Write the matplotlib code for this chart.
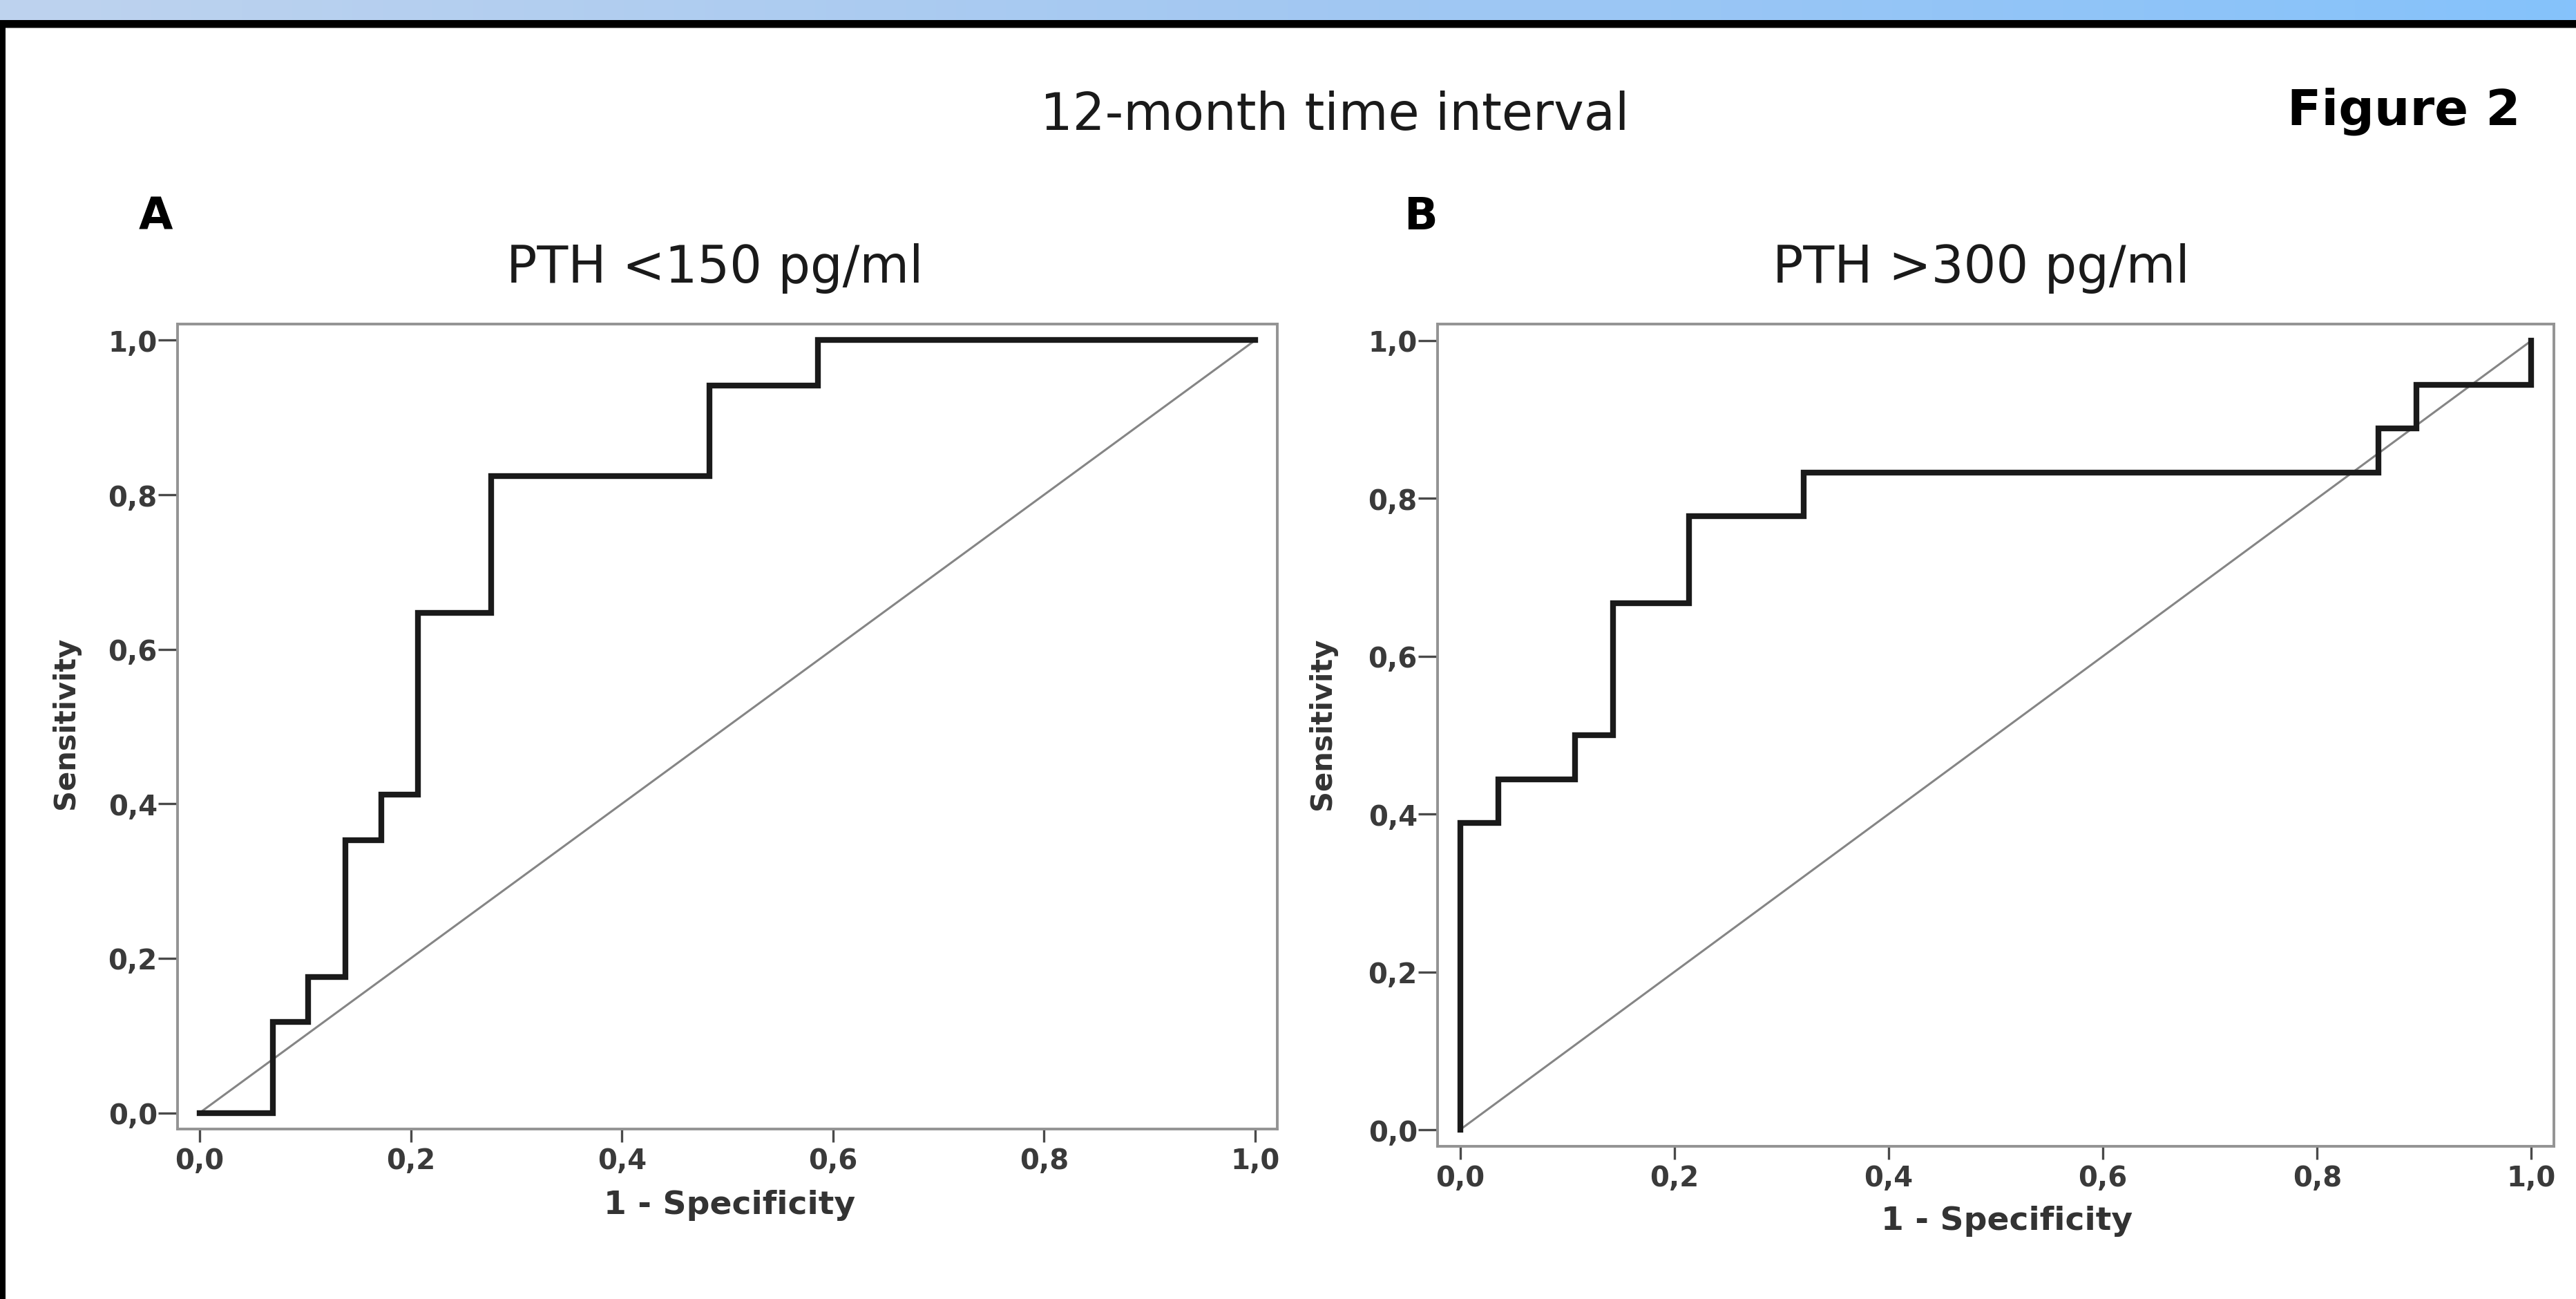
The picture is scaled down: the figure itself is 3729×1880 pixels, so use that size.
import numpy as np
import matplotlib
matplotlib.use('Agg')  # no display
import matplotlib.pyplot as plt
from matplotlib.patches import Rectangle
from matplotlib.colors import LinearSegmentedColormap
from matplotlib.ticker import FuncFormatter

# ============ data ============ #
# panel A: PTH <150 pg/ml  (points of the step curve, steps-post)
fpr_a = [0.0, 0.069, 0.103, 0.138, 0.172, 0.207, 0.276, 0.483, 0.586, 1.0]
sens_a = [0.0, 0.118, 0.176, 0.353, 0.412, 0.647, 0.824, 0.941, 1.0, 1.0]

# panel B: PTH >300 pg/ml
fpr_b = [0.0, 0.0, 0.036, 0.107, 0.143, 0.214, 0.321, 0.857, 0.893, 1.0]
sens_b = [0.0, 0.389, 0.444, 0.5, 0.667, 0.778, 0.833, 0.889, 0.944, 1.0]

ref_line = [0.0, 1.0]
ticks = [0.0, 0.2, 0.4, 0.6, 0.8, 1.0]

main_title = "12-month time interval"
fig_tag = "Figure 2"
panel_letters = ["A", "B"]
panel_titles = ["PTH <150 pg/ml", "PTH >300 pg/ml"]
xlabel = "1 - Specificity"
ylabel = "Sensitivity"

W, H = 3730, 1881
fig = plt.figure(figsize=(W / 100, H / 100), dpi=100)
fig.patch.set_facecolor("white")


def fx(px):
    return px / W


def fy(py):
    return 1 - py / H


# ============ frame decoration (blue band + black border) ============ #
band = fig.add_axes([0, fy(30), 1, 30 / H])
cmap = LinearSegmentedColormap.from_list("band", ["#bed3ee", "#a3c8f2", "#85c2fb"])
band.imshow(np.linspace(0, 1, 256)[None, :], aspect="auto", cmap=cmap,
            extent=[0, 1, 0, 1])
band.set_axis_off()
fig.add_artist(Rectangle((0, fy(41)), 1, 11 / H, transform=fig.transFigure,
                         facecolor="black", edgecolor="none"))
fig.add_artist(Rectangle((0, fy(42)), 1, 1.5 / H, transform=fig.transFigure,
                         facecolor="#999999", edgecolor="none"))
fig.add_artist(Rectangle((0, 0), fx(8), fy(30), transform=fig.transFigure,
                         facecolor="black", edgecolor="none"))

# ============ panels ============ #
# axes boxes in pixels: left, top, right, bottom
boxes = [(257, 470, 1849, 1635), (2081, 470, 3697, 1660)]
curves = [(fpr_a, sens_a), (fpr_b, sens_b)]

comma_fmt = FuncFormatter(lambda v, pos: f"{v:.1f}".replace(".", ","))
tick_font = dict(family="DejaVu Sans", weight="bold", size=29)

for (l, t, r, b), (fx_data, fy_data) in zip(boxes, curves):
    ax = fig.add_axes([fx(l), fy(b), (r - l) / W, (b - t) / H])
    ax.plot(ref_line, ref_line, color="#858585", lw=2.2, zorder=2)
    ax.plot(fx_data, fy_data, drawstyle="steps-post", color="#1a1a1a", lw=6,
            solid_joinstyle="miter", solid_capstyle="projecting", zorder=3)
    ax.set_xlim(-0.021, 1.021)
    ax.set_ylim(-0.021, 1.021)
    ax.set_xticks(ticks)
    ax.set_yticks(ticks)
    ax.xaxis.set_major_formatter(comma_fmt)
    ax.yaxis.set_major_formatter(comma_fmt)
    for sp in ax.spines.values():
        sp.set_color("#939393")
        sp.set_linewidth(2.8)
    ax.tick_params(axis="both", direction="out", width=2.4, color="#4a4a4a",
                   labelcolor="#3a3a3a")
    ax.tick_params(axis="y", length=20, pad=1)
    ax.tick_params(axis="x", length=14, pad=5)
    for lab in ax.get_xticklabels() + ax.get_yticklabels():
        lab.set_fontproperties(tick_font)

# ============ texts ============ #
fig.text(fx(1932), fy(188), main_title, ha="center", va="baseline",
         family="DejaVu Sans", size=53, color="#1a1a1a")
fig.text(fx(3480), fy(180), fig_tag, ha="center", va="baseline",
         family="DejaVu Sans", weight="bold", size=52, color="black")

letter_x = [225, 2057]
title_x = [1035, 2868]
xlabel_pos = [(1056, 1757), (2905, 1780)]
ylabel_pos = [(95, 1046), (1914, 1047)]
for i in range(2):
    fig.text(fx(letter_x[i]), fy(332), panel_letters[i], ha="center",
             va="baseline", family="DejaVu Sans", weight="bold", size=46,
             color="black")
    fig.text(fx(title_x[i]), fy(409), panel_titles[i], ha="center",
             va="baseline", family="DejaVu Sans", size=53, color="#1a1a1a")
    fig.text(fx(xlabel_pos[i][0]), fy(xlabel_pos[i][1]), xlabel, ha="center",
             va="baseline", family="DejaVu Sans", weight="bold", size=34,
             color="#333333")
    fig.text(fx(ylabel_pos[i][0]), fy(ylabel_pos[i][1]), ylabel, ha="center",
             va="center", rotation=90, family="DejaVu Sans", weight="bold",
             size=30, color="#333333")

fig.savefig("out.png", dpi=100, facecolor="white")
plt.close(fig)
